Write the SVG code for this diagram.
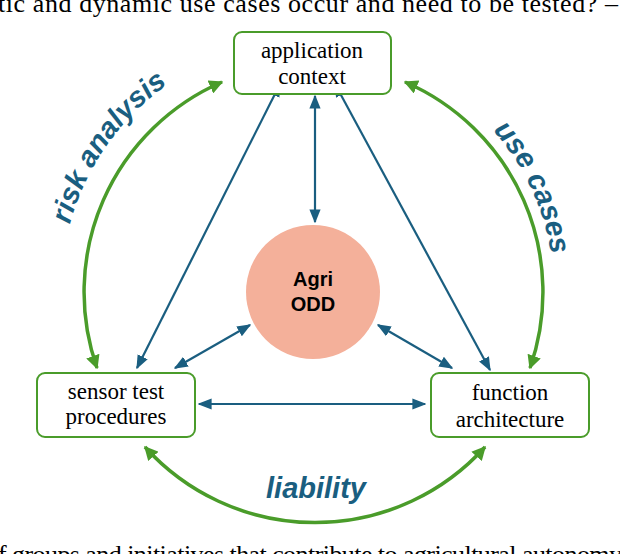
<svg xmlns="http://www.w3.org/2000/svg" width="620" height="554" viewBox="0 0 620 554">
<style>
.box{fill:#fff;stroke:#4a9c2a;stroke-width:2}
.lbl{font-family:"Liberation Serif",serif;font-size:23px;fill:#000;text-anchor:middle}
.blue{stroke:#1a5e80;stroke-width:2.2;fill:none;marker-start:url(#bs);marker-end:url(#be)}
.green{stroke:#4a9c2a;stroke-width:3.5;fill:none;marker-start:url(#gs);marker-end:url(#ge)}
.cl{font-family:"Liberation Sans",sans-serif;font-weight:bold;font-style:italic;font-size:29px;fill:#1a5e80}
.cap{font-family:"Liberation Serif",serif;font-size:26px;fill:#000}
</style>
<defs>
<marker id="be" viewBox="0 0 10 10" refX="9" refY="5" markerWidth="14" markerHeight="14" markerUnits="userSpaceOnUse" orient="auto"><path d="M0,1L10,5L0,9z" fill="#1a5e80"/></marker>
<marker id="bs" viewBox="0 0 10 10" refX="1" refY="5" markerWidth="14" markerHeight="14" markerUnits="userSpaceOnUse" orient="auto"><path d="M10,1L0,5L10,9z" fill="#1a5e80"/></marker>
<marker id="ge" viewBox="0 0 10 10" refX="9" refY="5" markerWidth="14" markerHeight="14" markerUnits="userSpaceOnUse" orient="auto"><path d="M0,0L10,5L0,10z" fill="#4a9c2a"/></marker>
<marker id="gs" viewBox="0 0 10 10" refX="1" refY="5" markerWidth="14" markerHeight="14" markerUnits="userSpaceOnUse" orient="auto"><path d="M10,0L0,5L10,10z" fill="#4a9c2a"/></marker>
<path id="pl" d="M65,334 A252,252 0 0 1 269,42"/>
<path id="pr" d="M395,64 A240,240 0 0 1 539,372"/>
</defs>
<text class="cap" x="-2" y="12" textLength="620">tic and dynamic use cases occur and need to be tested? –</text>
<text class="cap" x="-2" y="563" textLength="624">f groups and initiatives that contribute to agricultural autonomy</text>
<g id="connectors">
<path class="green" d="M222,82 A229,229 0 0 0 97,368"/>
<path class="green" d="M405,82 A229,229 0 0 1 530,368"/>
<path class="green" d="M145,447 A229,229 0 0 0 485,447"/>
<line class="blue" x1="315" y1="96" x2="315" y2="222"/>
<line class="blue" x1="280" y1="84" x2="137" y2="368"/>
<line class="blue" x1="335" y1="84" x2="490" y2="370"/>
<line class="blue" x1="199" y1="404" x2="425" y2="404"/>
<line class="blue" x1="250" y1="325" x2="175" y2="368"/>
<line class="blue" x1="378" y1="325" x2="452" y2="368"/>
</g>
<text class="cl"><textPath href="#pl" startOffset="50%" text-anchor="middle">risk analysis</textPath></text>
<text class="cl"><textPath href="#pr" startOffset="50%" text-anchor="middle">use cases</textPath></text>
<text class="cl" x="316" y="498" text-anchor="middle">liability</text>
<g id="app"><rect class="box" x="234" y="32" width="157" height="62" rx="8"/><text class="lbl" x="312" y="58">application</text><text class="lbl" x="312" y="84">context</text></g>
<g id="sensor"><rect class="box" x="37" y="373" width="158" height="64" rx="8"/><text class="lbl" x="116" y="399">sensor test</text><text class="lbl" x="116" y="424">procedures</text></g>
<g id="function"><rect class="box" x="431" y="373" width="158" height="64" rx="8"/><text class="lbl" x="510" y="400">function</text><text class="lbl" x="510" y="427">architecture</text></g>
<g id="odd"><circle cx="313" cy="292" r="67" fill="#f4b09a"/><text x="313" y="286" text-anchor="middle" font-family="Liberation Sans,sans-serif" font-weight="bold" font-size="20">Agri</text><text x="313" y="311" text-anchor="middle" font-family="Liberation Sans,sans-serif" font-weight="bold" font-size="20">ODD</text></g>
</svg>
